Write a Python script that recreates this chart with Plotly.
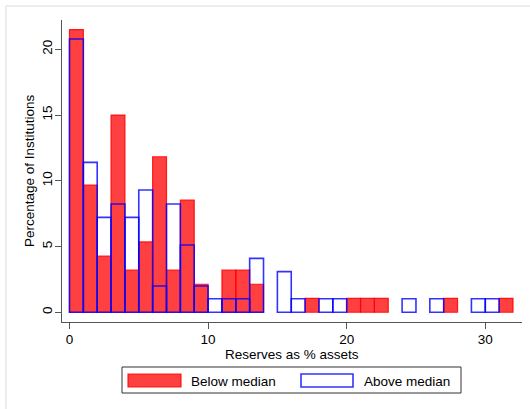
import plotly.graph_objects as go

# Histogram bins (width 1, left edges)
bin_left = list(range(0, 32))
below_median = [21.5, 9.68, 4.28, 15.0, 3.2, 5.35, 11.83, 3.2, 8.54, 2.13,
                0, 3.2, 3.2, 2.13, 0, 0, 0, 1.06, 0, 0,
                1.06, 1.06, 1.06, 0, 0, 0, 0, 1.06, 0, 0,
                0, 1.06]
above_median = [20.78, 11.4, 7.22, 8.24, 7.22, 9.3, 2.0, 8.24, 5.12, 2.0,
                1.03, 1.03, 1.03, 4.1, 0, 3.09, 1.03, 0, 1.03, 1.03,
                0, 0, 0, 0, 1.03, 0, 1.03, 0, 0, 1.03,
                1.03, 0]
x_ticks = [0, 10, 20, 30]
y_ticks = [0, 5, 10, 15, 20]
series_names = ["Below median", "Above median"]

centers = [b + 0.5 for b in bin_left]

RED_FILL = "rgba(255,0,0,0.75)"
RED_LINE = "rgba(255,0,0,0.85)"
BLUE_LINE = "rgba(0,0,255,0.8)"
FONT = "Liberation Sans, Arial, sans-serif"

def nz(xs, ys):
    pts = [(x, y) for x, y in zip(xs, ys) if y > 0]
    return [p[0] for p in pts], [p[1] for p in pts]

fig = go.Figure()
xr, yr = nz(centers, below_median)
fig.add_trace(go.Bar(x=xr, y=yr, width=1, name=series_names[0],
                     marker=dict(color=RED_FILL, line=dict(color=RED_LINE, width=1.2)),
                     showlegend=False, hoverinfo="skip"))
xb, yb = nz(centers, above_median)
fig.add_trace(go.Bar(x=xb, y=yb, width=1, name=series_names[1],
                     marker=dict(color="rgba(0,0,0,0)", line=dict(color=BLUE_LINE, width=1.6)),
                     showlegend=False, hoverinfo="skip"))

W, H = 530, 409
L, R, T, B = 62, 8, 20, 87
pw, ph = W - L - R, H - T - B

def px(x):
    return (x - L) / pw

def py(y):
    return (H - B - y) / ph

shapes = [
    # outer light border (top and left visible)
    dict(type="line", xref="paper", yref="paper", x0=px(6), y0=py(6), x1=px(W + 5), y1=py(6),
         line=dict(color="#e6e6e6", width=1.5)),
    dict(type="line", xref="paper", yref="paper", x0=px(6), y0=py(6), x1=px(6), y1=py(H + 5),
         line=dict(color="#e6e6e6", width=1.5)),
    # legend box
    dict(type="rect", xref="paper", yref="paper", x0=px(122), x1=px(461), y0=py(393), y1=py(367),
         line=dict(color="#333333", width=1), fillcolor="white"),
    dict(type="rect", xref="paper", yref="paper", x0=px(128), x1=px(181), y0=py(387), y1=py(374),
         line=dict(color=RED_LINE, width=1.2), fillcolor=RED_FILL),
    dict(type="rect", xref="paper", yref="paper", x0=px(301), x1=px(353), y0=py(387), y1=py(374),
         line=dict(color=BLUE_LINE, width=1.6), fillcolor="rgba(0,0,0,0)"),
]

annotations = [
    dict(text=series_names[0], xref="paper", yref="paper", x=px(189), y=py(381),
         xanchor="left", yanchor="middle", showarrow=False,
         font=dict(family=FONT, size=13.5, color="black")),
    dict(text=series_names[1], xref="paper", yref="paper", x=px(362), y=py(381),
         xanchor="left", yanchor="middle", showarrow=False,
         font=dict(family=FONT, size=13.5, color="black")),
    # axis titles placed at measured positions
    dict(text="Reserves as % assets", xref="paper", yref="paper", x=px(292), y=py(354.5),
         xanchor="center", yanchor="middle", showarrow=False,
         font=dict(family=FONT, size=13.5, color="black")),
    dict(text="Percentage of Institutions", xref="paper", yref="paper", x=px(29), y=py(171),
         xanchor="center", yanchor="middle", showarrow=False, textangle=-90,
         font=dict(family=FONT, size=13.5, color="black")),
]

fig.update_layout(
    width=W, height=H,
    margin=dict(l=L, r=R, t=T, b=B, pad=0, autoexpand=False),
    paper_bgcolor="white", plot_bgcolor="white",
    barmode="overlay", bargap=0,
    font=dict(family=FONT, size=13.5, color="black"),
    shapes=shapes, annotations=annotations,
    showlegend=False, hovermode=False,
)
fig.update_xaxes(
    range=[-0.54, 32.65], tickvals=x_ticks, ticktext=[str(t) for t in x_ticks],
    showgrid=False, zeroline=False, showline=True, linecolor="#555555", linewidth=1,
    ticks="outside", ticklen=6, tickcolor="#555555", automargin=False,
    tickfont=dict(size=13.5), ticklabelstandoff=-1,
)
fig.update_yaxes(
    range=[-0.74, 22.23], tickvals=y_ticks, ticktext=[str(t) for t in y_ticks],
    showgrid=False, zeroline=False, showline=True, linecolor="#555555", linewidth=1,
    ticks="outside", ticklen=6, tickcolor="#555555", tickangle=-90, automargin=False,
    tickfont=dict(size=13.5), ticklabelstandoff=-2,
)

fig.write_html("out.html", config={"displayModeBar": False, "staticPlot": True},
               post_script="document.body.style.margin='0';document.body.style.padding='0';")
